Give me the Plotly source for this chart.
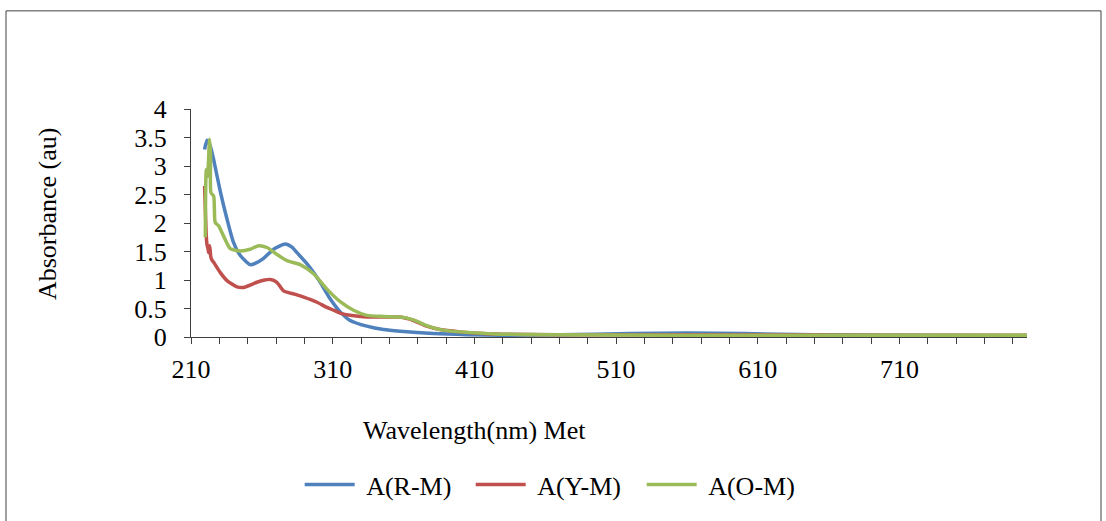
import plotly.graph_objects as go

# Absorption spectra (wavelength in nm, absorbance in au)
wl_rm = [219.6, 221.3, 223.6, 226.0, 230.7, 235.4, 240.0, 244.8, 251.8, 256.0,
         261.2, 268.3, 276.5, 281.0, 284.8, 293.0, 301.2, 308.2, 315.3, 322.3,
         334.1, 345.8, 357.6, 381.1, 404.6, 430.0, 470.0, 520.0, 560.0, 600.0,
         650.0, 700.0, 800.0]
abs_rm = [3.29, 3.45, 3.35, 3.11, 2.55, 2.07, 1.66, 1.43, 1.27, 1.30,
          1.38, 1.54, 1.63, 1.58, 1.48, 1.25, 0.96, 0.67, 0.44, 0.29,
          0.19, 0.13, 0.10, 0.06, 0.04, 0.03, 0.04, 0.06, 0.07, 0.06,
          0.04, 0.03, 0.02]

wl_ym = [219.6, 220.8, 221.3, 222.0, 222.4, 223.2, 224.0, 224.8, 226.0, 230.7,
         235.4, 242.4, 247.1, 256.5, 262.0, 266.0, 270.6, 275.3, 284.7, 294.1,
         298.9, 305.9, 310.6, 315.3, 322.3, 334.1, 345.8, 357.6, 367.0, 376.4,
         385.8, 399.9, 416.3, 430.0, 470.0, 520.0, 600.0, 700.0, 800.0]
abs_ym = [2.65, 1.77, 1.62, 1.55, 1.48, 1.60, 1.40, 1.35, 1.31, 1.13,
          0.99, 0.88, 0.87, 0.96, 1.00, 1.01, 0.96, 0.81, 0.74, 0.66,
          0.61, 0.52, 0.47, 0.42, 0.38, 0.35, 0.35, 0.35, 0.29, 0.19,
          0.13, 0.09, 0.06, 0.05, 0.04, 0.04, 0.04, 0.03, 0.03]

wl_om = [220.1, 220.8, 221.7, 223.1, 223.8, 224.1, 226.0, 227.1, 229.5, 233.0,
         237.7, 244.8, 251.8, 257.7, 263.6, 270.6, 277.7, 287.1, 296.5, 305.9,
         315.3, 324.7, 334.1, 345.8, 357.6, 367.0, 376.4, 385.8, 399.9, 428.0,
         470.0, 550.0, 650.0, 800.0]
abs_om = [1.75, 2.94, 2.82, 3.47, 3.20, 2.53, 2.47, 2.01, 1.95, 1.77,
          1.55, 1.51, 1.54, 1.60, 1.57, 1.45, 1.34, 1.27, 1.11, 0.84,
          0.62, 0.47, 0.38, 0.36, 0.35, 0.30, 0.20, 0.13, 0.09, 0.05,
          0.04, 0.03, 0.03, 0.03]

series_names = ["A(R-M)", "A(Y-M)", "A(O-M)"]
series_colors = ["#4F81BD", "#C0504D", "#9BBB59"]

x_labels = [210, 310, 410, 510, 610, 710]
y_labels = [0, 0.5, 1, 1.5, 2, 2.5, 3, 3.5, 4]

FONT = "Liberation Serif"
FS = 26

fig = go.Figure()
for wl, ab, name, color in zip([wl_rm, wl_ym, wl_om], [abs_rm, abs_ym, abs_om],
                               series_names, series_colors):
    fig.add_trace(go.Scatter(
        x=wl, y=ab, name="\u00a0" + name, mode="lines",
        line=dict(color=color, width=3.5, shape="spline", smoothing=0.6),
    ))

fig.update_layout(
    width=1106, height=521,
    margin=dict(l=191, r=79, t=109, b=182),
    paper_bgcolor="white", plot_bgcolor="white",
    font=dict(family=FONT, size=FS, color="black"),
    showlegend=True,
    legend=dict(
        orientation="h", x=0.13, y=-(488 - 339) / 230, xanchor="left",
        yanchor="middle",
        font=dict(family=FONT, size=FS, color="black"),
        itemwidth=50, entrywidth=106, entrywidthmode="pixels",
        bgcolor="rgba(0,0,0,0)",
    ),
    xaxis=dict(
        range=[210, 800], tickvals=x_labels, ticktext=[str(v) for v in x_labels],
        showgrid=False, zeroline=False, showline=True, linecolor="#404040",
        linewidth=1, ticks="outside", ticklen=6, tickcolor="#404040",
        minor=dict(tick0=210, dtick=20, ticks="outside", ticklen=6,
                   tickcolor="#404040", showgrid=False),
        tickfont=dict(family=FONT, size=FS),
        ticklabelstandoff=3,
    ),
    yaxis=dict(
        range=[0, 4], tickvals=y_labels, ticktext=[f"{v:g}" for v in y_labels],
        showgrid=False, zeroline=False, showline=True, linecolor="#404040",
        linewidth=1, ticks="outside", ticklen=6, tickcolor="#404040",
        tickfont=dict(family=FONT, size=FS),
        ticklabelstandoff=12,
    ),
    annotations=[
        dict(text="Wavelength(nm) Met", xref="paper", yref="paper",
             x=(474 - 191) / 836, y=-(433 - 339) / 230, xanchor="center",
             yanchor="middle", showarrow=False,
             font=dict(family=FONT, size=FS, color="black")),
        dict(text="Absorbance (au)", xref="paper", yref="paper",
             x=(47 - 191) / 836, y=(339 - 215) / 230, xanchor="center",
             yanchor="middle", textangle=-90, showarrow=False,
             font=dict(family=FONT, size=FS, color="black")),
    ],
    shapes=[
        dict(type="rect", xref="paper", yref="paper",
             x0=(6 - 191) / 836, x1=(1101 - 191) / 836,
             y0=-(540 - 339) / 230, y1=(339 - 10) / 230,
             line=dict(color="#404040", width=1), fillcolor="rgba(0,0,0,0)",
             layer="below"),
    ],
)

fig.write_html("out.html")
